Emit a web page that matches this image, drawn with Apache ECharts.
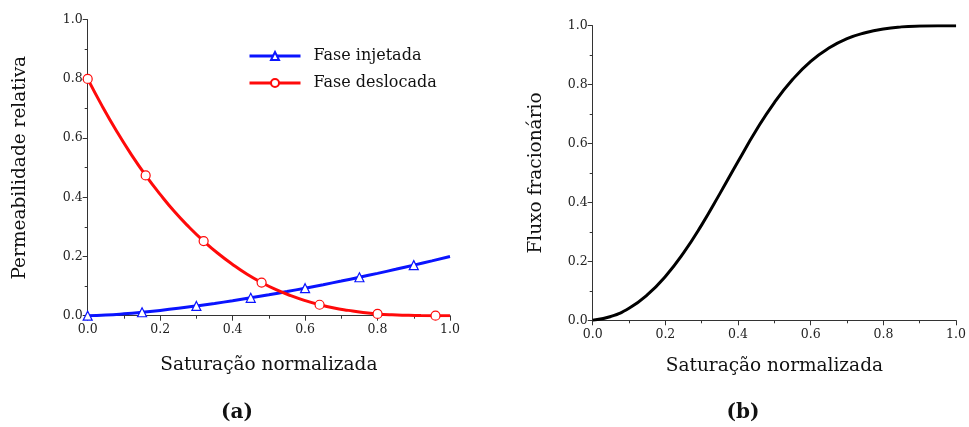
<!DOCTYPE html>
<html>
<head>
<meta charset="utf-8">
<script src="https://cdn.jsdelivr.net/npm/echarts@6/dist/echarts.min.js"></script>
<style>
  html, body { margin: 0; padding: 0; background: #fff; }
  #chart { width: 969px; height: 427px; }
</style>
</head>
<body>
<div id="chart"></div>
<script>
// (a) relative permeability curves
const injX = [0, 0.05, 0.1, 0.15, 0.2, 0.25, 0.3, 0.35, 0.4, 0.45, 0.5, 0.55, 0.6, 0.65, 0.7, 0.75, 0.8, 0.85, 0.9, 0.95, 1.0];
const injY = [0, 0.0022, 0.0063, 0.0116, 0.0179, 0.025, 0.0329, 0.0414, 0.0506, 0.0604, 0.0707, 0.0816, 0.093, 0.1048, 0.1171, 0.1299, 0.1431, 0.1567, 0.1708, 0.1852, 0.2];
const injMarks = [0, 0.15, 0.3, 0.45, 0.6, 0.75, 0.9];

const desX = [0, 0.04, 0.08, 0.12, 0.16, 0.2, 0.24, 0.28, 0.32, 0.36, 0.4, 0.44, 0.48, 0.52, 0.56, 0.6, 0.64, 0.68, 0.72, 0.76, 0.8, 0.84, 0.88, 0.92, 0.96, 1.0];
const desY = [0.8, 0.708, 0.623, 0.545, 0.474, 0.41, 0.351, 0.299, 0.252, 0.21, 0.173, 0.14, 0.112, 0.088, 0.068, 0.051, 0.037, 0.026, 0.018, 0.011, 0.006, 0.003, 0.0014, 0.0004, 0.0001, 0];
const desMarks = [0, 0.16, 0.32, 0.48, 0.64, 0.8, 0.96];

// (b) fractional flow curve
const fluxX = [0, 0.05, 0.1, 0.15, 0.2, 0.25, 0.3, 0.35, 0.4, 0.45, 0.5, 0.55, 0.6, 0.65, 0.7, 0.75, 0.8, 0.85, 0.9, 0.95, 1.0];
const fluxY = [0, 0.013, 0.041, 0.086, 0.149, 0.229, 0.324, 0.43, 0.539, 0.645, 0.739, 0.817, 0.879, 0.924, 0.956, 0.976, 0.989, 0.996, 0.999, 1.0, 1.0];

const FONT = "DejaVu Serif";
const INK = "#222";

function withMarks(xs, ys, marks) {
  return xs.map((x, i) => {
    const hit = marks.some((m) => Math.abs(m - x) < 1e-9);
    return hit ? { value: [x, ys[i]] } : { value: [x, ys[i]], symbol: "none" };
  });
}

function axisBase(name, gap, isY) {
  return {
    type: "value",
    min: 0,
    max: 1,
    interval: 0.2,
    name: name,
    nameLocation: "middle",
    nameGap: gap,
    nameTextStyle: { fontFamily: FONT, fontSize: 18.5, color: "#111" },
    axisLine: { show: true, lineStyle: { color: "#333", width: 1 } },
    axisTick: { show: true, length: 5, lineStyle: { color: "#333" } },
    minorTick: { show: true, splitNumber: 2, length: 3, lineStyle: { color: "#333" } },
    splitLine: { show: false },
    axisLabel: {
      fontFamily: FONT,
      fontSize: 12.5,
      color: INK,
      margin: isY ? 5 : 8,
      formatter: (v) => v.toFixed(1),
    },
  };
}

const chart = echarts.init(document.getElementById("chart"));
chart.setOption({
  animation: false,
  backgroundColor: "#fff",
  title: [
    { text: "(a)", left: 232, top: 398, textAlign: "center",
      textStyle: { fontFamily: FONT, fontSize: 20, fontWeight: "bold", color: "#111" } },
    { text: "(b)", left: 738, top: 398, textAlign: "center",
      textStyle: { fontFamily: FONT, fontSize: 20, fontWeight: "bold", color: "#111" } },
  ],
  legend: {
    left: 243,
    top: 43,
    orient: "vertical",
    itemWidth: 51,
    itemHeight: 10,
    itemGap: 11,
    lineStyle: { width: 3 },
    textStyle: { fontFamily: FONT, fontSize: 16, color: "#111", padding: [0, 0, 0, 8] },
    data: ["Fase injetada", "Fase deslocada"],
  },
  grid: [
    { left: 87.7, right: 519, top: 19.7, bottom: 111.3 },
    { left: 592.7, right: 9.7, top: 25.7, bottom: 106.7 },
  ],
  xAxis: [
    Object.assign(axisBase("Saturação normalizada", 40, false), { gridIndex: 0 }),
    Object.assign(axisBase("Saturação normalizada", 36, false), { gridIndex: 1 }),
  ],
  yAxis: [
    Object.assign(axisBase("Permeabilidade relativa", 58, true), { gridIndex: 0 }),
    Object.assign(axisBase("Fluxo fracionário", 47, true), { gridIndex: 1 }),
  ],
  series: [
    {
      name: "Fase injetada",
      type: "line",
      xAxisIndex: 0,
      yAxisIndex: 0,
      smooth: true,
      data: withMarks(injX, injY, injMarks),
      symbol: "triangle",
      symbolSize: 9,
      lineStyle: { color: "#0a14ff", width: 3 },
      itemStyle: { color: "#fff", borderColor: "#0a14ff", borderWidth: 1.2 },
      z: 3,
    },
    {
      name: "Fase deslocada",
      type: "line",
      xAxisIndex: 0,
      yAxisIndex: 0,
      smooth: true,
      data: withMarks(desX, desY, desMarks),
      symbol: "circle",
      symbolSize: 9,
      lineStyle: { color: "#ff0a0a", width: 3 },
      itemStyle: { color: "#fff", borderColor: "#ff0a0a", borderWidth: 1.2 },
      z: 4,
    },
    {
      name: "Fluxo",
      type: "line",
      xAxisIndex: 1,
      yAxisIndex: 1,
      smooth: true,
      showSymbol: false,
      data: fluxX.map((x, i) => [x, fluxY[i]]),
      lineStyle: { color: "#000", width: 3 },
    },
  ],
});
</script>
</body>
</html>
